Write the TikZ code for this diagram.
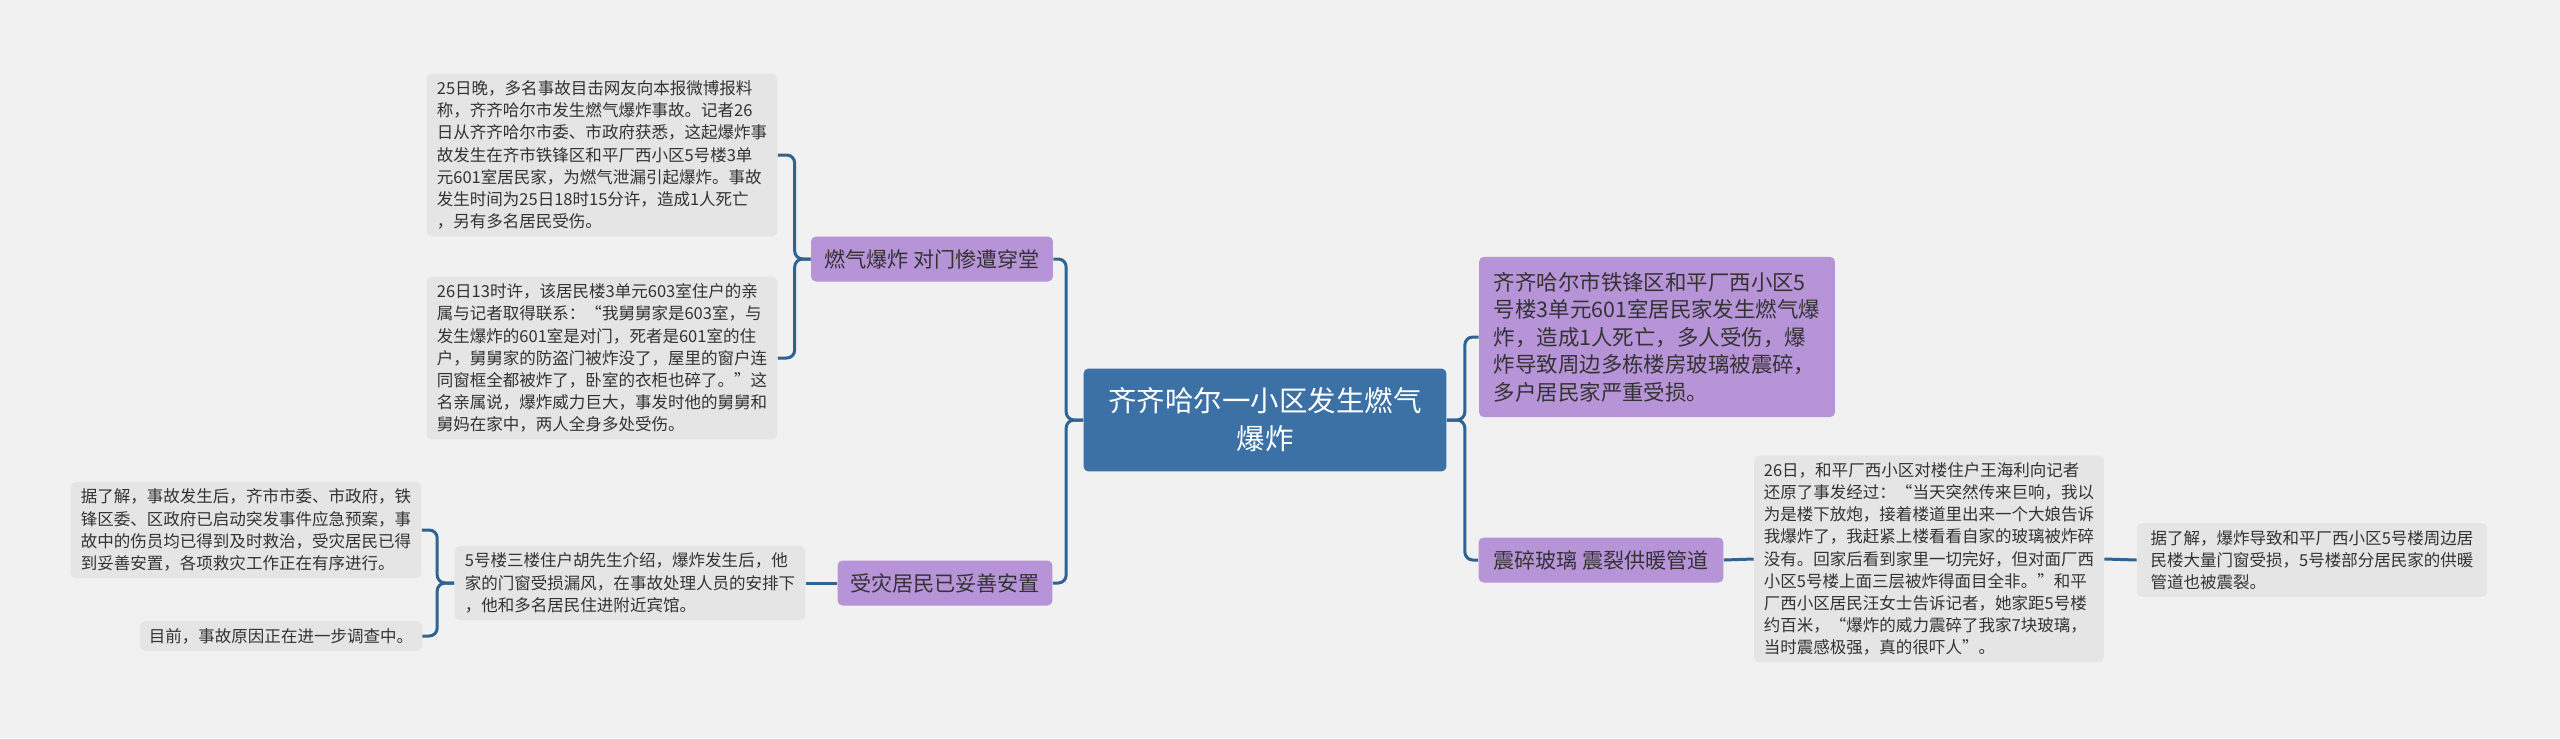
\documentclass[tikz,border=0pt]{standalone}
\usepackage{fontspec}
\setmainfont{Noto Sans CJK SC}
\usepackage{tikz}

\definecolor{bggray}{HTML}{F1F1F1}
\definecolor{leafgray}{HTML}{E5E5E5}
\definecolor{topicblue}{HTML}{3B71A5}
\definecolor{branchpurple}{HTML}{B793D7}
\definecolor{linkblue}{HTML}{2F6391}
\definecolor{inkgray}{HTML}{333333}

\begin{document}
\begin{tikzpicture}[x=0.02cm,y=-0.02cm,
  leaf/.style={fill=leafgray,rounded corners=0.1cm,align=left,text=inkgray,
    font=\fontsize{9.4}{12.6}\selectfont,inner xsep=0.18cm,inner ysep=0.14cm,minimum width=7.02cm},
  branch/.style={fill=branchpurple,rounded corners=0.1cm,text=inkgray,
    font=\fontsize{12}{15}\selectfont,inner xsep=0.16cm,minimum height=0.9cm},
  link/.style={draw=linkblue,line width=1.7pt,rounded corners=0.16cm}]
\fill[bggray] (0,0) rectangle (2560,738);
% centre and main branches
\node[fill=topicblue,rounded corners=0.1cm,text=white,align=center,
  font=\fontsize{16.2}{21.5}\selectfont,minimum width=7.26cm,minimum height=2.06cm]
  (topic) at (1265,420) {齐齐哈尔一小区发生燃气\\爆炸};
\node[branch,minimum width=4.84cm] (gas) at (932,259) {燃气爆炸 对门惨遭穿堂};
\node[branch,minimum width=4.3cm] (settle) at (945,583) {受灾居民已妥善安置};
\node[branch,align=left,font=\fontsize{12.2}{15.7}\selectfont,inner ysep=0.3cm,minimum width=7.12cm]
  (summary) at (1657,337) {齐齐哈尔市铁锋区和平厂西小区5\\号楼3单元601室居民家发生燃气爆\\炸，造成1人死亡，多人受伤，爆\\炸导致周边多栋楼房玻璃被震碎，\\多户居民家严重受损。};
\node[branch,minimum width=4.9cm] (glass) at (1601,560) {震碎玻璃 震裂供暖管道};
% leaves
\node[leaf] (night) at (602,155) {25日晚，多名事故目击网友向本报微博报料\\称，齐齐哈尔市发生燃气爆炸事故。记者26\\日从齐齐哈尔市委、市政府获悉，这起爆炸事\\故发生在齐市铁锋区和平厂西小区5号楼3单\\元601室居民家，为燃气泄漏引起爆炸。事故\\发生时间为25日18时15分许，造成1人死亡\\，另有多名居民受伤。};
\node[leaf] (relative) at (602,358) {26日13时许，该居民楼3单元603室住户的亲\\属与记者取得联系：“我舅舅家是603室，与\\发生爆炸的601室是对门，死者是601室的住\\户，舅舅家的防盗门被炸没了，屋里的窗户连\\同窗框全都被炸了，卧室的衣柜也碎了。”这\\名亲属说，爆炸威力巨大，事发时他的舅舅和\\舅妈在家中，两人全身多处受伤。};
\node[leaf] (hotel) at (630,583) {5号楼三楼住户胡先生介绍，爆炸发生后，他\\家的门窗受损漏风，在事故处理人员的安排下\\，他和多名居民住进附近宾馆。};
\node[leaf] (rescue) at (246,530) {据了解，事故发生后，齐市市委、市政府，铁\\锋区委、区政府已启动突发事件应急预案，事\\故中的伤员均已得到及时救治，受灾居民已得\\到妥善安置，各项救灾工作正在有序进行。};
\node[leaf,minimum width=5.64cm] (probe) at (281,636) {目前，事故原因正在进一步调查中。};
\node[leaf,minimum width=7cm] (witness) at (1929,559) {26日，和平厂西小区对楼住户王海利向记者\\还原了事发经过：“当天突然传来巨响，我以\\为是楼下放炮，接着楼道里出来一个大娘告诉\\我爆炸了，我赶紧上楼看看自家的玻璃被炸碎\\没有。回家后看到家里一切完好，但对面厂西\\小区5号楼上面三层被炸得面目全非。”和平\\厂西小区居民汪女士告诉记者，她家距5号楼\\约百米，“爆炸的威力震碎了我家7块玻璃，\\当时震感极强，真的很吓人”。};
\node[leaf,minimum width=7cm] (pipes) at (2312,560) {据了解，爆炸导致和平厂西小区5号楼周边居\\民楼大量门窗受损，5号楼部分居民家的供暖\\管道也被震裂。};
% connectors
\foreach \b in {gas,settle}
  \draw[link] (topic.west) -- ++(-17,0) |- (\b.east);
\foreach \b in {summary,glass}
  \draw[link] (topic.east) -- ++(18,0) |- (\b.west);
\foreach \l in {night,relative}
  \draw[link] (gas.west) -- ++(-16,0) |- (\l.east);
\foreach \l in {rescue,probe}
  \draw[link] (hotel.west) -- ++(-17,0) |- (\l.east);
\draw[link] (settle.west) -- (hotel.east);
\draw[link] (glass.east) -- (witness.west);
\draw[link] (witness.east) -- (pipes.west);
\end{tikzpicture}
\end{document}
